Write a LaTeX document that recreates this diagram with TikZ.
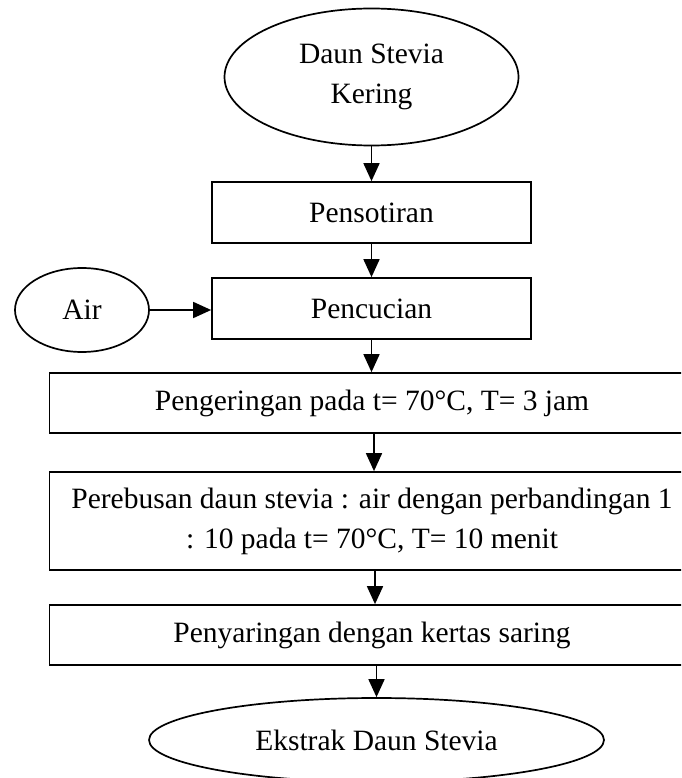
\documentclass[tikz,border=0pt]{standalone}
\usepackage{fontspec}
\setmainfont{Liberation Serif}
\usetikzlibrary{shapes.geometric,arrows.meta}
\begin{document}
\begin{tikzpicture}[x=1pt,y=-1pt,
  font=\fontsize{29.5}{40}\selectfont,
  line width=1.7pt,
  oval/.style={draw, ellipse, inner sep=0pt, align=center},
  stepbox/.style={draw, rectangle, inner sep=0pt, align=center},
  arr/.style={-{Triangle[length=18pt,width=16pt]}}]
\path[use as bounding box, clip] (0,0) rectangle (681,778);
\node[oval, minimum width=294pt, minimum height=137pt] (start) at (371.5,77) {Daun Stevia\\Kering};
\node[stepbox, minimum width=319pt, minimum height=61pt] (pens) at (371.5,212.5) {Pensotiran};
\node[stepbox, minimum width=319pt, minimum height=61pt] (penc) at (371.5,308.5) {Pencucian};
\node[oval, minimum width=134pt, minimum height=84pt] (air) at (82,310) {Air};
\node[stepbox, minimum width=645pt, minimum height=60pt] (peng) at (372,403) {Pengeringan pada t= 70°C, T= 3 jam};
\node[stepbox, minimum width=645pt, minimum height=98pt] (pereb) at (372,521) {Perebusan daun stevia : air dengan perbandingan 1\\: 10 pada t= 70°C, T= 10 menit};
\node[stepbox, minimum width=645pt, minimum height=60pt] (peny) at (372,635) {Penyaringan dengan kertas saring};
\node[oval, minimum width=455pt, minimum height=84pt] (ekstrak) at (376.5,740) {Ekstrak Daun Stevia};
\draw[arr] (start.south) -- (pens.north);
\draw[arr] (pens.south) -- (penc.north);
\draw[arr] (air.east) -- (air.east -| penc.west);
\draw[arr] (penc.south) -- (penc.south |- peng.north);
\draw[arr] ([xshift=2pt]peng.south) -- ([xshift=2pt]peng.south |- pereb.north);
\draw[arr] ([xshift=3pt]pereb.south) -- ([xshift=3pt]pereb.south |- peny.north);
\draw[arr] (ekstrak.north |- peny.south) -- (ekstrak.north);
\end{tikzpicture}
\end{document}
